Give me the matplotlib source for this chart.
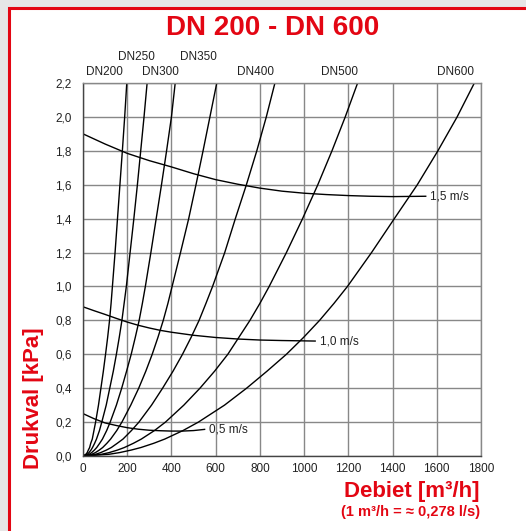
import matplotlib
matplotlib.use('Agg')
import matplotlib.pyplot as plt
from matplotlib.patches import Rectangle

plt.rcParams['font.family'] = ['Liberation Sans', 'DejaVu Sans']

rood = '#e30613'

druk_niveaus = [0, 0.01, 0.02, 0.035, 0.05, 0.075, 0.1, 0.15, 0.2, 0.3, 0.4, 0.5,
                0.6, 0.7, 0.8, 0.9, 1.0, 1.2, 1.4, 1.6, 1.8, 2.0, 2.2]

debiet_dn200 = [0, 12.7, 19, 24, 30, 35, 42, 49.5, 57, 70, 81, 92, 102, 111.5, 120, 127,
                133, 145, 156, 167, 178, 188.5, 198]
debiet_dn250 = [0, 19.2, 27, 36, 43, 52.6, 61, 74.4, 85, 105, 121, 137, 151, 164, 176, 186,
                196, 213, 230, 246, 261, 276, 290]
debiet_dn300 = [0, 27.6, 39, 51.5, 62, 75.5, 88, 107, 123, 151, 175, 197, 218, 236.5, 254, 268.5,
                282, 307, 331, 355, 378, 400, 417]
debiet_dn350 = [0, 39.4, 56, 73.7, 89, 108, 125, 152.6, 176, 216, 252, 284, 313, 339, 363, 384,
                403, 441, 478, 511, 543, 574, 605]
debiet_dn400 = [0, 56.6, 80, 106, 128, 155, 181, 219, 253, 310, 360, 407, 450, 489, 525, 556,
                586, 641, 689, 739, 786, 829, 868]
debiet_dn500 = [0, 83.4, 118, 156, 187, 228, 264, 323, 373, 456, 529, 595, 655, 705, 755, 800,
                842, 920, 993, 1062, 1126, 1186, 1242]
debiet_dn600 = [0, 116.7, 165, 218, 262, 320, 370, 452, 522, 640, 740, 832, 920, 998, 1070, 1135,
                1196, 1305, 1408, 1512, 1605, 1692, 1770]

dn_namen = ['DN200', 'DN250', 'DN300', 'DN350', 'DN400', 'DN500', 'DN600']

# snelheidslijnen
q_05 = [0, 50, 100, 150, 200, 250, 300, 350, 400, 450, 500, 550]
dp_05 = [0.25, 0.22, 0.195, 0.18, 0.167, 0.158, 0.152, 0.149, 0.147, 0.147, 0.150, 0.157]
q_10 = [0, 50, 100, 150, 200, 250, 300, 350, 400, 500, 600, 700, 800, 900, 1000, 1050]
dp_10 = [0.88, 0.857, 0.835, 0.812, 0.79, 0.771, 0.755, 0.741, 0.73, 0.712, 0.699, 0.69,
         0.684, 0.681, 0.679, 0.678]
q_15 = [0, 100, 200, 300, 400, 500, 600, 700, 800, 900, 1000, 1100, 1200, 1300, 1400, 1550]
dp_15 = [1.90, 1.84, 1.785, 1.742, 1.705, 1.665, 1.63, 1.603, 1.58, 1.562, 1.55, 1.542,
         1.536, 1.532, 1.53, 1.532]
snelheid_labels = ['0,5 m/s', '1,0 m/s', '1,5 m/s']

x_ticks = [0, 200, 400, 600, 800, 1000, 1200, 1400, 1600, 1800]
y_ticks = [0.0, 0.2, 0.4, 0.6, 0.8, 1.0, 1.2, 1.4, 1.6, 1.8, 2.0, 2.2]

fig = plt.figure(figsize=(5.26, 5.31), dpi=100)
fig.patch.set_facecolor('#e6e6e6')

# wit kader met rode rand
kader = Rectangle((9.5 / 526, -0.1), 1.2, 1 - 8 / 531 + 0.1, transform=fig.transFigure,
                  facecolor='white', edgecolor=rood, linewidth=2.2, zorder=-1)
fig.patches.append(kader)

ax = fig.add_axes([83 / 526, 75 / 531, 398 / 526, 373 / 531])
ax.set_zorder(2)
ax.set_xlim(0, 1800)
ax.set_ylim(0, 2.2)
ax.set_xticks(x_ticks)
ax.set_yticks(y_ticks)
ax.set_xticklabels([str(x) for x in x_ticks])
ax.set_yticklabels([('%.1f' % y).replace('.', ',') for y in y_ticks])
ax.tick_params(length=0, labelsize=8.5, colors='#222222')
ax.tick_params(axis='y', pad=8)
ax.tick_params(axis='x', pad=5)
ax.grid(True, color='#888888', linewidth=1.0)
ax.set_axisbelow(True)
for s in ax.spines.values():
    s.set_color('#888888')
    s.set_linewidth(1.0)
ax.spines['left'].set_color('#444444')
ax.spines['bottom'].set_color('#444444')

alle_debieten = [debiet_dn200, debiet_dn250, debiet_dn300, debiet_dn350,
                 debiet_dn400, debiet_dn500, debiet_dn600]
for q in alle_debieten:
    ax.plot(q, druk_niveaus, color='black', linewidth=1.0)

ax.plot(q_05, dp_05, color='black', linewidth=1.0)
ax.plot(q_10, dp_10, color='black', linewidth=1.0)
ax.plot(q_15, dp_15, color='black', linewidth=1.0)

ax.text(q_05[-1] + 20, dp_05[-1], snelheid_labels[0], fontsize=8.5, va='center', color='#222222')
ax.text(q_10[-1] + 20, dp_10[-1], snelheid_labels[1], fontsize=8.5, va='center', color='#222222')
ax.text(q_15[-1] + 20, dp_15[-1], snelheid_labels[2], fontsize=8.5, va='center', color='#222222')

# DN labels boven de grafiek
label_x = [95, 240, 348, 522, 782, 1160, 1683]
label_y = [2.267, 2.356, 2.267, 2.356, 2.267, 2.267, 2.267]
for naam, lx, ly in zip(dn_namen, label_x, label_y):
    ax.text(lx, ly, naam, fontsize=8.5, ha='center', va='center', color='#222222', clip_on=False)

fig.text(273 / 526, 1 - 28 / 531, 'DN 200 - DN 600', color=rood, fontsize=20,
         fontweight='bold', ha='center', va='center')
fig.text(33 / 526, 1 - 398 / 531, 'Drukval [kPa]', color=rood, fontsize=16,
         fontweight='bold', ha='center', va='center', rotation=90)
fig.text(480 / 526, 1 - 492 / 531, 'Debiet [m³/h]', color=rood, fontsize=16,
         fontweight='bold', ha='right', va='center')
fig.text(480 / 526, 1 - 512 / 531, '(1 m³/h = ≈ 0,278 l/s)', color=rood, fontsize=10.5,
         fontweight='bold', ha='right', va='center')

fig.savefig('out.png', dpi=100, facecolor=fig.get_facecolor())
